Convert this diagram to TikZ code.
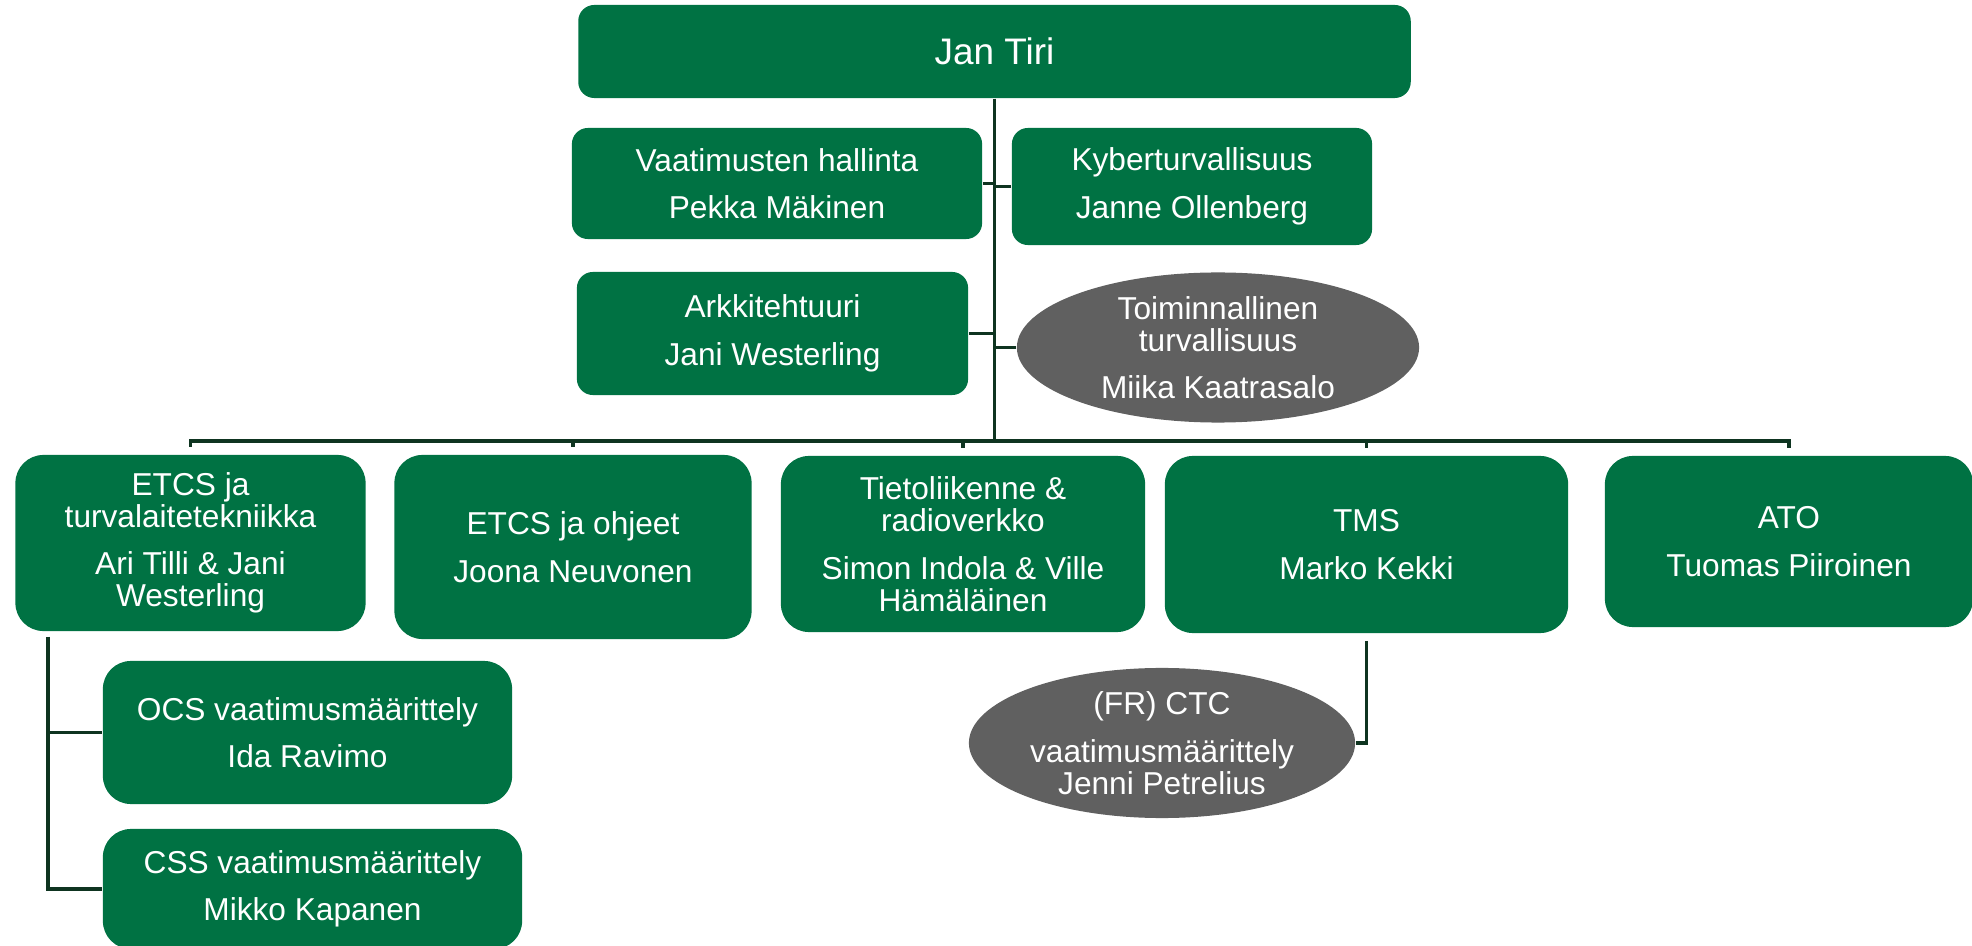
\documentclass[tikz,border=0pt]{standalone}
\usepackage{fontspec}
\setmainfont{Liberation Sans}
\usepackage{tikz}
\usetikzlibrary{shapes.geometric}
\definecolor{vgreen}{RGB}{0,114,67}
\definecolor{vgrey}{RGB}{96,96,96}
\definecolor{vline}{RGB}{14,52,32}
\tikzstyle{conn} = [draw=vline, line width=0.9pt]

\begin{document}
\begin{tikzpicture}[x=0.01cm, y=-0.01cm]
    \tikzstyle{unit}=[fill=vgreen, text=white, rounded corners=0.16cm, align=center, inner sep=0pt, font={\fontsize{9}{9.1}\selectfont}]
    \tikzstyle{team}=[unit, rounded corners=0.28cm]
    \tikzstyle{extra}=[ellipse, fill=vgrey, text=white, align=center, inner sep=0pt, font={\fontsize{9}{9.1}\selectfont}]

    \useasboundingbox (0,0) rectangle (1972,946);

    \node[unit, minimum width=8.32cm, minimum height=0.93cm, font={\fontsize{10.5}{12}\selectfont}] (jan) at (994.5,51.5) {Jan Tiri};

    \node[unit, minimum width=4.10cm, minimum height=1.11cm] (vaat) at (777,183.5) {Vaatimusten hallinta\\[4.4pt]Pekka Mäkinen};
    \node[unit, minimum width=3.60cm, minimum height=1.17cm] (kyber) at (1192,186.5) {Kyberturvallisuus\\[4.4pt]Janne Ollenberg};
    \node[unit, minimum width=3.91cm, minimum height=1.23cm] (arkki) at (772.5,333.5) {Arkkitehtuuri\\[4.4pt]Jani Westerling};
    \node[extra, minimum width=4.02cm, minimum height=1.50cm] (toim) at (1218,347.5) {Toiminnallinen\\turvallisuus\\[4.4pt]Miika Kaatrasalo};

    \node[team, minimum width=3.50cm, minimum height=1.76cm] (etcs) at (190.5,543) {ETCS ja\\turvalaitetekniikka\\[4.4pt]Ari Tilli \& Jani\\Westerling};
    \node[team, minimum width=3.57cm, minimum height=1.84cm] (ohjeet) at (573,547) {ETCS ja ohjeet\\[4.4pt]Joona Neuvonen};
    \node[team, minimum width=3.64cm, minimum height=1.76cm] (tieto) at (963,544) {Tietoliikenne \&\\radioverkko\\[4.4pt]Simon Indola \& Ville\\Hämäläinen};
    \node[team, minimum width=4.03cm, minimum height=1.77cm] (tms) at (1366.5,544.5) {TMS\\[4.4pt]Marko Kekki};
    \node[team, minimum width=3.68cm, minimum height=1.71cm] (ato) at (1789,541.5) {ATO\\[4.4pt]Tuomas Piiroinen};

    \node[team, minimum width=4.09cm, minimum height=1.43cm] (ocs) at (307.5,732.5) {OCS vaatimusmäärittely\\[4.4pt]Ida Ravimo};
    \node[team, minimum width=4.19cm, minimum height=1.20cm] (css) at (312.5,889) {CSS vaatimusmäärittely\\[4.4pt]Mikko Kapanen};
    \node[extra, minimum width=3.86cm, minimum height=1.50cm] (ctc) at (1162,743) {(FR) CTC\\[4.4pt]vaatimusmäärittely\\Jenni Petrelius};

    \coordinate (bus) at (994.5,441);
    \coordinate (etcsdown) at (48,637);

    \draw[conn] (jan) -- (bus);
    \draw[conn] (vaat.east) -- (vaat.east -| bus);
    \draw[conn] (kyber.west) -- (kyber.west -| bus);
    \draw[conn] (arkki.east) -- (arkki.east -| bus);
    \draw[conn] (toim.west) -- (toim.west -| bus);

    \foreach \n in {etcs,ohjeet,tieto,tms,ato}
        \draw[conn, shorten >=2pt] (bus) -| (\n.north);

    \draw[conn] (etcsdown) |- (ocs.west);
    \draw[conn] (etcsdown) |- (css.west);
    \draw[conn, shorten <=2pt] (tms.south) |- (ctc.east);
\end{tikzpicture}
\end{document}
